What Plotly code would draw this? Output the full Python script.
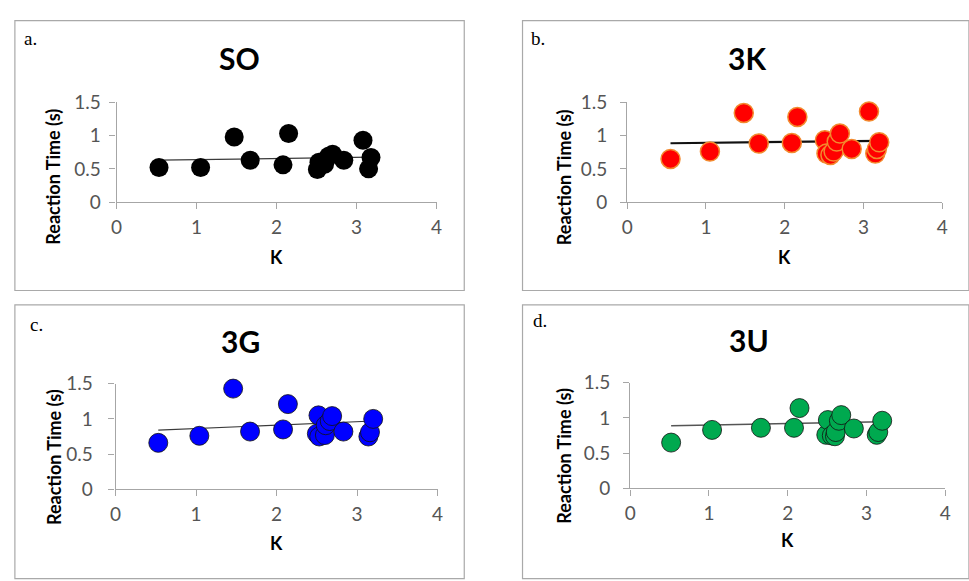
import plotly.graph_objects as go

W, H = 969, 581

# ---------------- data ----------------
so_k = [0.53, 1.05, 1.47, 1.67, 2.08, 2.15, 2.51, 2.53, 2.60, 2.65, 2.70, 2.84, 3.08, 3.15, 3.18]
so_rt = [0.52, 0.52, 0.98, 0.63, 0.56, 1.03, 0.49, 0.60, 0.57, 0.69, 0.72, 0.63, 0.93, 0.50, 0.67]
so_trend = [0.63, 0.675]

k3_k = [0.55, 1.05, 1.48, 1.67, 2.09, 2.16, 2.51, 2.53, 2.58, 2.62, 2.66, 2.70, 2.85, 3.07, 3.15, 3.17, 3.20]
k3_rt = [0.65, 0.76, 1.34, 0.88, 0.89, 1.28, 0.93, 0.73, 0.71, 0.76, 0.91, 1.03, 0.80, 1.36, 0.73, 0.80, 0.90]
k3_trend = [0.885, 0.92]

g3_k = [0.53, 1.04, 1.46, 1.67, 2.08, 2.14, 2.50, 2.52, 2.53, 2.60, 2.61, 2.66, 2.69, 2.83, 3.14, 3.16, 3.20]
g3_rt = [0.66, 0.76, 1.43, 0.82, 0.85, 1.21, 0.79, 1.05, 0.75, 0.77, 0.91, 0.97, 1.04, 0.82, 0.75, 0.81, 1.00]
g3_trend = [0.84, 0.97]

u3_k = [0.52, 1.04, 1.66, 2.08, 2.15, 2.49, 2.51, 2.56, 2.60, 2.61, 2.65, 2.68, 2.84, 3.13, 3.15, 3.20]
u3_rt = [0.65, 0.83, 0.86, 0.86, 1.14, 0.76, 0.97, 0.75, 0.74, 0.80, 0.96, 1.04, 0.85, 0.76, 0.80, 0.96]
u3_trend = [0.89, 0.945]

titles = ["SO", "3K", "3G", "3U"]
letters = ["a.", "b.", "c.", "d."]
x_ticks = [0, 1, 2, 3, 4]
y_ticks = [0, 0.5, 1, 1.5]
y_tick_text = ["0", "0.5", "1", "1.5"]
x_title = "K"
y_title = "Reaction Time (s)"

# ---------------- layout geometry (pixels) ----------------
panels = [
    dict(px=(112, 436), py=(94, 198), t=(236, 48), l=(25, 28), yt=(48, 171), xt=(274, 255), box=(9, 9, 464, 290), ys=5,
         k=so_k, rt=so_rt, tr=so_trend,
         marker=dict(color="black", size=19, line=dict(color="black", width=0)),
         tline=dict(color="#3a3a3a", width=1.2)),
    dict(px=(629, 948), py=(94, 198), t=(750, 48), l=(539, 28), yt=(565, 172), xt=(788, 255), box=(523, 9, 975, 290), ys=9,
         k=k3_k, rt=k3_rt, tr=k3_trend,
         marker=dict(color="#ff0000", size=19, line=dict(color="#f38a2e", width=1.5)),
         tline=dict(color="#111111", width=2.2)),
    dict(px=(111, 437), py=(387, 497), t=(237, 343), l=(31, 325), yt=(48, 463), xt=(274, 553), box=(9, 305, 464, 590), ys=12,
         k=g3_k, rt=g3_rt, tr=g3_trend,
         marker=dict(color="#0000ff", size=19, line=dict(color="#111111", width=0.8)),
         tline=dict(color="#3a3a3a", width=1.2)),
    dict(px=(632, 951), py=(386, 496), t=(752, 342), l=(541, 321), yt=(565, 462), xt=(791, 550), box=(523, 305, 975, 590), ys=9,
         k=u3_k, rt=u3_rt, tr=u3_trend,
         marker=dict(color="#00a94f", size=19, line=dict(color="#111111", width=0.8)),
         tline=dict(color="#555555", width=1.5)),
]


def xp(px):
    return px / W


def yp(py):
    return 1 - py / H


fig = go.Figure()
annotations = []
shapes = []
axis_color = "#a6a6a6"
tick_font = dict(family="Lato, Calibri, sans-serif", size=19, color="#555555")

for i, p in enumerate(panels):
    n = "" if i == 0 else str(i + 1)
    xa, ya = "x" + n, "y" + n
    fig.add_trace(go.Scatter(x=[min(p["k"]), max(p["k"])], y=p["tr"], mode="lines",
                             line=p["tline"], xaxis=xa, yaxis=ya, showlegend=False,
                             cliponaxis=False, hoverinfo="skip"))
    fig.add_trace(go.Scatter(x=p["k"], y=p["rt"], mode="markers", marker=p["marker"],
                             xaxis=xa, yaxis=ya, showlegend=False, cliponaxis=False))

    fig.layout["xaxis" + n] = dict(
        domain=[xp(p["px"][0]), xp(p["px"][1])], range=[0, 4], anchor=ya,
        tickvals=x_ticks, ticks="outside", ticklen=6, tickcolor=axis_color,
        showline=True, linecolor=axis_color, linewidth=1.3, showgrid=False, zeroline=False,
        tickfont=tick_font, ticklabelstandoff=2, fixedrange=True)
    fig.layout["yaxis" + n] = dict(
        domain=[yp(p["py"][1]), yp(p["py"][0])], range=[0, 1.5], anchor=xa,
        tickvals=y_ticks, ticktext=y_tick_text, ticks="outside", ticklen=6,
        tickcolor=axis_color, showline=True, linecolor=axis_color, linewidth=1.3,
        showgrid=False, zeroline=False, tickfont=tick_font, ticklabelstandoff=p["ys"],
        fixedrange=True)

    b = p["box"]
    shapes.append(dict(type="rect", xref="paper", yref="paper",
                       x0=xp(b[0]), x1=xp(b[2]), y0=yp(b[3]), y1=yp(b[1]),
                       line=dict(color="#a9a9a9", width=1.2), fillcolor="rgba(0,0,0,0)", layer="below"))
    annotations.append(dict(text="<b>%s</b>" % titles[i], x=xp(p["t"][0]), y=yp(p["t"][1]),
                            xref="paper", yref="paper", showarrow=False, xanchor="center", yanchor="middle",
                            font=dict(family="Lato, Calibri, sans-serif", size=30, color="#000000")))
    annotations.append(dict(text=letters[i], x=xp(p["l"][0]), y=yp(p["l"][1]),
                            xref="paper", yref="paper", showarrow=False, xanchor="center", yanchor="middle",
                            font=dict(family="Liberation Serif, Times New Roman, serif", size=19, color="#000000")))
    annotations.append(dict(text="<b>%s</b>" % y_title, x=xp(p["yt"][0]), y=yp(p["yt"][1]),
                            xref="paper", yref="paper", showarrow=False, xanchor="center", yanchor="middle",
                            textangle=-90,
                            font=dict(family="Lato, Calibri, sans-serif", size=18, color="#000000")))
    annotations.append(dict(text="<b>%s</b>" % x_title, x=xp(p["xt"][0]), y=yp(p["xt"][1]),
                            xref="paper", yref="paper", showarrow=False, xanchor="center", yanchor="middle",
                            font=dict(family="Lato, Calibri, sans-serif", size=18, color="#000000")))

fig.update_layout(width=W, height=H, margin=dict(l=0, r=0, t=0, b=0),
                  paper_bgcolor="white", plot_bgcolor="white",
                  annotations=annotations, shapes=shapes, showlegend=False)

fig.write_html("out.html", config={"displayModeBar": False},
               post_script="document.body.style.margin='0';document.body.style.overflow='hidden';")
